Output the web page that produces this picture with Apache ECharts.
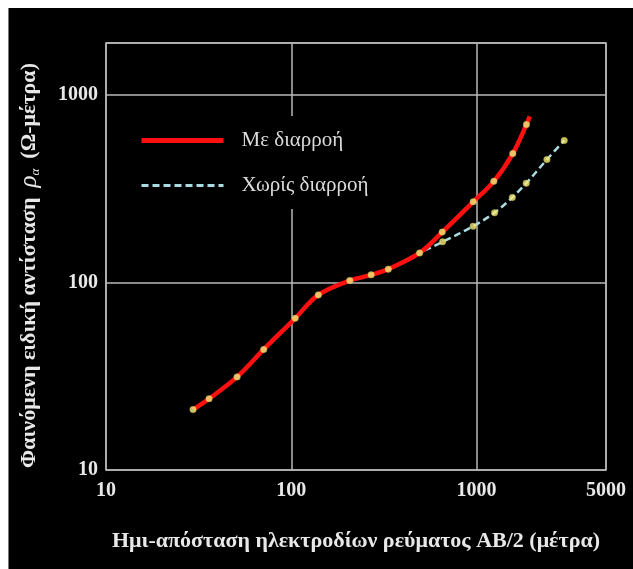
<!DOCTYPE html>
<html>
<head>
<meta charset="utf-8">
<script src="https://cdn.jsdelivr.net/npm/echarts@6/dist/echarts.min.js"></script>
<style>
  html, body { margin: 0; padding: 0; background: #fff; }
  #chart { position: absolute; left: 8px; top: 8px; width: 625px; height: 561px; border-left: 1px solid #777; box-sizing: border-box; }
</style>
</head>
<body>
<div id="chart"></div>
<script>
// AB/2 (m) and apparent resistivity (Ohm-m)
const redX = [29.5, 36, 51, 71, 105, 140, 207, 270, 334, 493, 653, 960, 1240, 1570, 1860];
const redY = [21, 24, 31.4, 44, 64.5, 86, 102.5, 110, 118, 144, 186, 270, 347, 488, 697];
const redEnd = [1937, 771];
const cyanX = [29.5, 36, 51, 71, 105, 140, 207, 270, 334, 493, 656, 959, 1252, 1561, 1855, 2400, 2975];
const cyanY = [21, 24, 31.4, 44, 64.5, 86, 102.5, 110, 118, 144, 165, 200, 236, 285, 339, 454, 574];
const xTicks = [10, 100, 1000, 5000];
const yTicks = [10, 100, 1000];
const seriesNames = ['Με διαρροή', 'Χωρίς διαρροή'];

const redLine = redX.map((x, i) => [x, redY[i]]).concat([redEnd]);
const redDots = redX.map((x, i) => [x, redY[i]]);
const cyanLine = cyanX.map((x, i) => [x, cyanY[i]]);
const cyanDots = cyanX.slice(10).map((x, i) => [x, cyanY[i + 10]]);

const chart = echarts.init(document.getElementById('chart'), null, { renderer: 'canvas' });
const serif = '"Liberation Serif", "DejaVu Serif", serif';
const gridCol = '#b8b8b8';
const redCol = '#ff1010';
const cyanCol = '#a9dbe3';
chart.setOption({
  backgroundColor: '#000',
  animation: false,
  grid: { left: 95, right: 27, top: 35, bottom: 99, show: true, borderColor: gridCol, borderWidth: 1.5, backgroundColor: 'transparent' },
  legend: {
    orient: 'vertical', left: 120, top: 108,
    backgroundColor: '#000', padding: [14, 10, 13, 10],
    itemWidth: 82, itemHeight: 14, itemGap: 24,
    itemStyle: { opacity: 0 },
    data: [
      { name: seriesNames[0], lineStyle: { color: redCol, width: 5 } },
      { name: seriesNames[1], lineStyle: { color: cyanCol, width: 3, type: [7, 4] } }
    ],
    textStyle: { fontFamily: serif, fontSize: 21, color: '#dcdcdc', padding: [0, 0, 0, 13] }
  },
  xAxis: {
    type: 'log', logBase: 10, min: 10, max: 5000,
    name: 'Ημι-απόσταση ηλεκτροδίων ρεύματος ΑΒ/2 (μέτρα)',
    nameLocation: 'middle', nameGap: 60,
    nameTextStyle: { fontFamily: serif, fontWeight: 'bold', fontSize: 22, color: '#e8e8e8' },
    axisLine: { show: false }, axisTick: { show: false },
    axisLabel: {
      fontFamily: serif, fontWeight: 'bold', fontSize: 20, color: '#e8e8e8', margin: 11,
      formatter: v => { const r = Math.round(v); const t = xTicks.find(t => Math.abs(t - r) / t < 0.01); return t ? String(t) : ''; }
    },
    splitLine: { show: true, lineStyle: { color: gridCol, width: 1.5 } }
  },
  yAxis: {
    type: 'log', logBase: 10, min: 10, max: 1900,
    name: '{b|Φαινόμενη ειδική αντίσταση}   {r|ρ}{s|α}   {b|(Ω-μέτρα)}',
    nameLocation: 'middle', nameGap: 64, nameRotate: 90,
    nameTextStyle: {
      color: '#e8e8e8',
      padding: [0, 18, 0, 0],
      rich: {
        b: { fontFamily: serif, fontWeight: 'bold', fontSize: 22, color: '#e8e8e8' },
        r: { fontFamily: serif, fontStyle: 'italic', fontSize: 25, color: '#e8e8e8' },
        s: { fontFamily: serif, fontStyle: 'italic', fontSize: 13, color: '#e8e8e8', verticalAlign: 'bottom', lineHeight: 12 }
      }
    },
    axisLine: { show: false }, axisTick: { show: false },
    axisLabel: {
      fontFamily: serif, fontWeight: 'bold', fontSize: 20, color: '#e8e8e8', margin: 8, showMaxLabel: false,
      formatter: v => { const r = Math.round(v); const t = yTicks.find(t => Math.abs(t - r) / t < 0.01); return t ? String(t) : ''; }
    },
    splitLine: { show: true, lineStyle: { color: gridCol, width: 1.5 } }
  },
  series: [
    { name: seriesNames[1], type: 'line', data: cyanLine, smooth: 0.35, symbol: 'none', z: 2,
      lineStyle: { color: cyanCol, width: 2.5, type: [7, 4] }, itemStyle: { color: cyanCol } },
    { name: seriesNames[0], type: 'line', data: redLine, smooth: 0.35, symbol: 'none', z: 3,
      lineStyle: { color: redCol, width: 4.5 }, itemStyle: { color: redCol } },
    { type: 'scatter', data: redDots.concat(cyanDots), symbol: 'circle', symbolSize: 6.5, z: 4,
      itemStyle: { color: '#f5ec7c', borderColor: '#c9b640', borderWidth: 0.5 }, silent: true }
  ]
});
</script>
</body>
</html>
